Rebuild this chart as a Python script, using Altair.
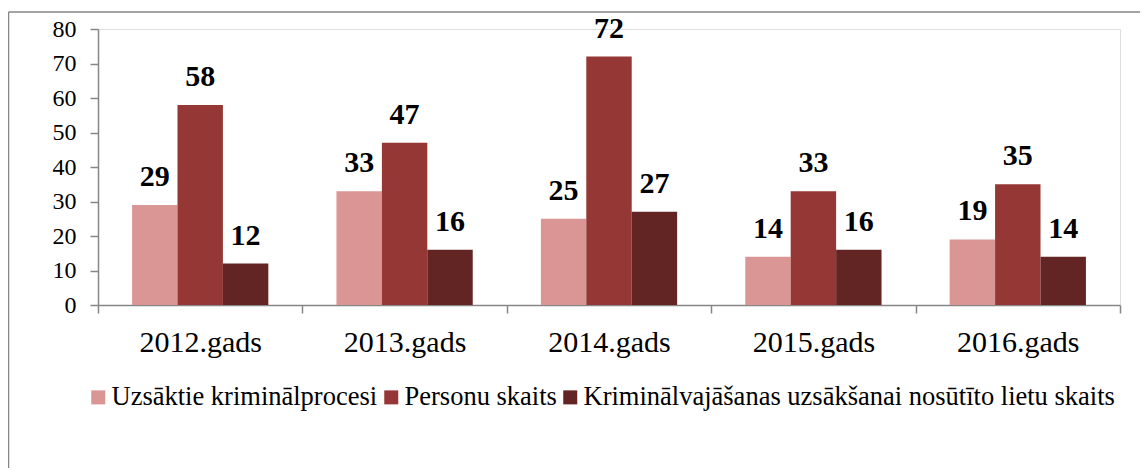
import altair as alt
import pandas as pd

years = ["2012.gads", "2013.gads", "2014.gads", "2015.gads", "2016.gads"]
series = [
    "Uzsāktie kriminālprocesi",
    "Personu skaits",
    "Kriminālvajāšanas uzsākšanai nosūtīto lietu skaits",
]
started = [29, 33, 25, 14, 19]
persons = [58, 47, 72, 33, 35]
sent = [12, 16, 27, 16, 14]
colors = ["#D99694", "#953735", "#632523"]

rows = []
for i, yr in enumerate(years):
    for s, vals in zip(series, [started, persons, sent]):
        rows.append({"year": yr, "series": s, "value": vals[i]})
df = pd.DataFrame(rows)

W, H = 1022, 276
FONT = "Liberation Serif"
GREY = "#868686"

x = alt.X(
    "year:N", sort=years, title=None,
    scale=alt.Scale(paddingInner=0, paddingOuter=0),
    axis=alt.Axis(labelAngle=0, labelFontSize=30, labelFont=FONT, labelColor="black",
                  tickBand="extent", tickSize=8, tickColor=GREY, tickWidth=1.5,
                  domainColor=GREY, domainWidth=1.5, labelPadding=14),
)
xo = alt.XOffset("series:N", sort=series,
                 scale=alt.Scale(domain=series, paddingInner=0, paddingOuter=0.75))
y = alt.Y(
    "value:Q", title=None, scale=alt.Scale(domain=[0, 80]),
    axis=alt.Axis(values=list(range(0, 81, 10)), grid=False, labelFontSize=24,
                  labelFont=FONT, labelColor="black", labelOverlap=False,
                  tickSize=8, tickColor=GREY,
                  tickWidth=1.5, domainColor=GREY, domainWidth=1.5, labelPadding=14),
)
color = alt.Color(
    "series:N", sort=series, scale=alt.Scale(domain=series, range=colors),
    legend=alt.Legend(orient="none", legendX=-13, legendY=355, direction="horizontal",
                      columns=3, title=None, symbolType="square", symbolSize=196,
                      symbolStrokeWidth=0, symbolOpacity=1, labelFontSize=26.5,
                      labelFont=FONT, labelColor="black", labelLimit=1000,
                      columnPadding=0, labelOffset=0),
)

bars = alt.Chart(df).mark_bar().encode(x=x, xOffset=xo, y=y, color=color)
labels = alt.Chart(df).mark_text(
    dy=-19, baseline="alphabetic", fontSize=30, fontWeight="bold", font=FONT, color="black"
).encode(x=x, xOffset=xo, y=y, text="value:Q")

one = pd.DataFrame({"a": [0]})
left_border = alt.Chart(one).mark_rule(color=GREY, strokeWidth=1.5).encode(
    x=alt.value(-89.5), y=alt.value(-17), y2=alt.value(H + 200))
top_border = alt.Chart(one).mark_rule(color=GREY, strokeWidth=1.5).encode(
    x=alt.value(-89.5), x2=alt.value(W + 60), y=alt.value(-17))

chart = alt.layer(bars, labels, left_border, top_border).properties(
    width=W, height=H,
    autosize=alt.AutoSizeParams(type="none"),
    padding={"left": 90, "top": 21, "right": 20, "bottom": 163},
).configure_view(stroke=None).configure(background="white", font=FONT).configure_legend(
    labelFont=FONT, labelFontSize=26.5, labelColor="black"
).configure_axis(labelFont=FONT, labelColor="black")

chart.save("out.html", embed_options={"renderer": "svg", "actions": False})
